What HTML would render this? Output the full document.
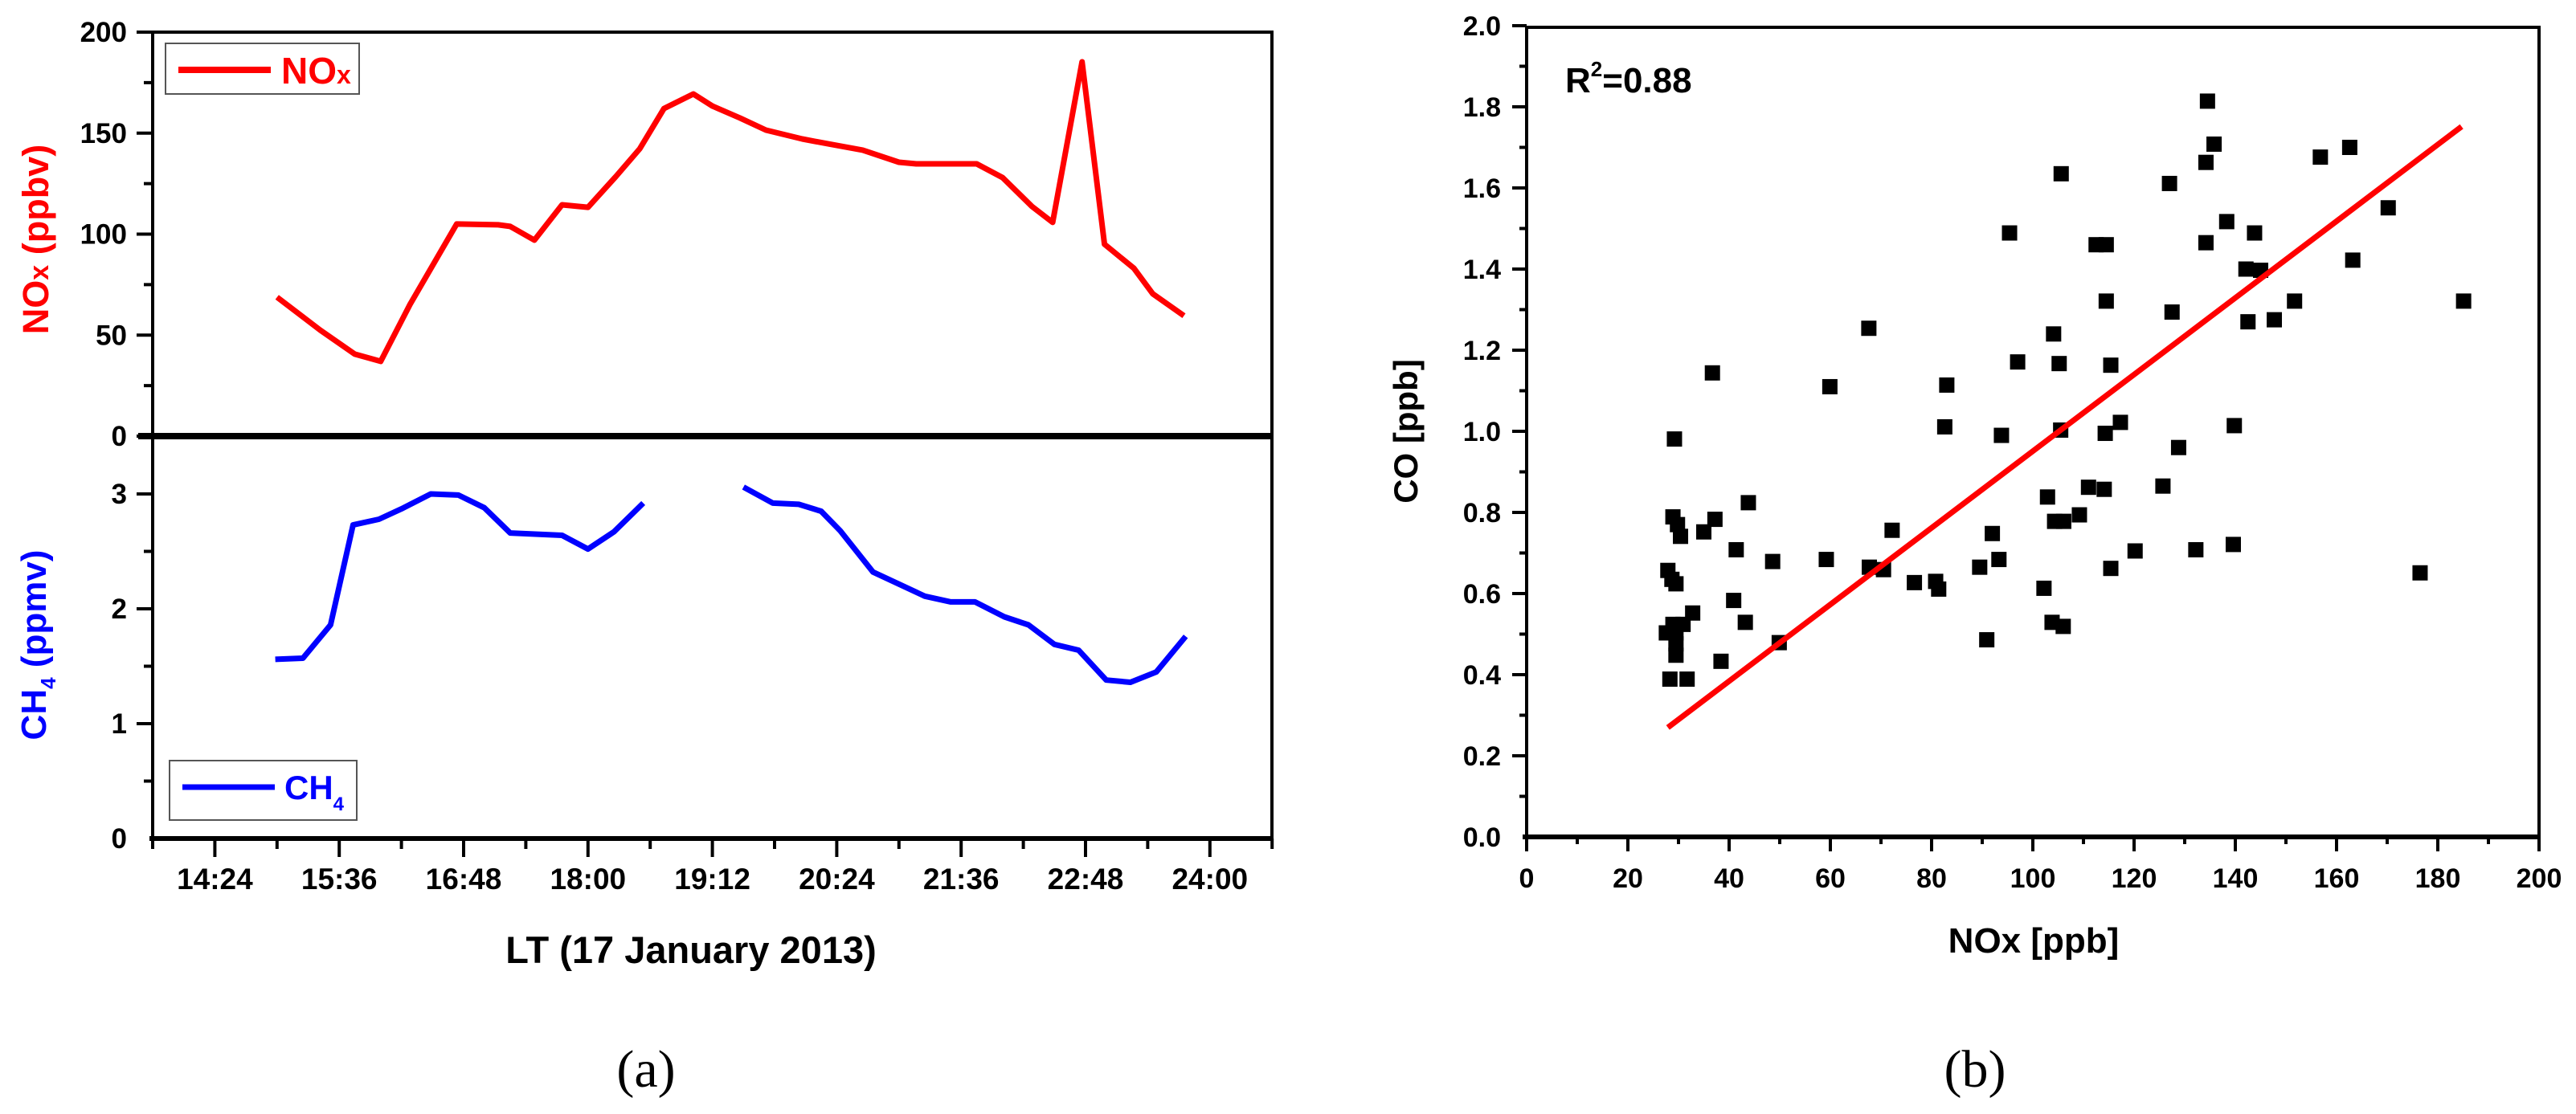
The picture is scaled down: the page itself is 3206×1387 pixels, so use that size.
<!DOCTYPE html>
<html><head><meta charset="utf-8"><title>NOx CH4 CO charts</title>
<style>
html,body{margin:0;padding:0;background:#fff;}
svg{display:block;}
text{font-family:"Liberation Sans",Arial,sans-serif;font-weight:bold;}
</style></head>
<body>
<svg id="fig" xmlns="http://www.w3.org/2000/svg" width="3206" height="1387" viewBox="0 0 3206 1387">
<rect x="0" y="0" width="3206" height="1387" fill="#fff"/>
</svg>
<script>
// ---- Panel (a) data: time in minutes since midnight ----
const noxTimes = [900,925,945,960,977,1004,1028,1035,1049,1065,1080,1096,1110,1124,1141,1152,1168,1183,1204,1219,1239,1260,1270,1305,1320,1337,1349,1366,1379,1396,1407,1425];
const noxValues = [68.8,52.5,40.6,37.0,65.2,105.0,104.6,103.8,97.0,114.5,113.3,128.4,142.3,162.2,169.4,163.4,157.5,151.5,147.1,144.7,141.6,135.6,134.8,134.8,128.0,113.7,105.8,185.3,95.0,83.1,70.4,59.6];
const ch4TimesA = [899,915,931,944,959,972,989,1005,1020,1035,1065,1080,1095,1112];
const ch4ValuesA = [1.56,1.57,1.86,2.73,2.78,2.87,3.00,2.99,2.88,2.66,2.64,2.52,2.67,2.92];
const ch4TimesB = [1170,1187,1202,1215,1226,1245,1275,1290,1304,1321,1335,1350,1364,1380,1394,1409,1426];
const ch4ValuesB = [3.06,2.92,2.91,2.85,2.68,2.32,2.11,2.06,2.06,1.93,1.86,1.69,1.64,1.38,1.36,1.45,1.76];
const timeTickLabels = ["14:24","15:36","16:48","18:00","19:12","20:24","21:36","22:48","24:00"];
const timeTickMinutes = [864,936,1008,1080,1152,1224,1296,1368,1440];
const noxTickLabels = ["0","50","100","150","200"];
const noxTickValues = [0,50,100,150,200];
const ch4TickLabels = ["0","1","2","3"];
const ch4TickValues = [0,1,2,3];
// ---- Panel (b) data ----
const scatterNox = [134.5,135.8,134.2,156.8,162.6,105.6,127.0,170.2,138.3,95.4,143.8,112.5,114.5,134.2,163.2,142.1,145.0,114.5,151.7,185.1,127.5,142.5,147.7,67.6,104.1,97.0,105.2,115.4,36.7,59.9,83.0,82.6,117.3,139.8,105.5,114.3,93.8,29.2,128.8,125.7,111.0,114.1,102.9,43.8,109.2,104.3,106.1,37.2,28.9,29.8,30.4,35.0,72.2,92.0,41.4,120.2,132.2,139.6,59.2,48.6,93.3,67.7,70.5,89.5,27.9,28.7,29.5,115.4,176.5,76.6,80.8,81.4,102.2,40.9,32.8,28.9,30.9,43.2,27.6,29.5,103.8,106.0,90.9,49.9,29.5,38.4,28.3,31.7,29.5];
const scatterCo = [1.814,1.708,1.663,1.676,1.700,1.635,1.611,1.551,1.517,1.489,1.489,1.460,1.460,1.465,1.422,1.400,1.397,1.321,1.321,1.321,1.294,1.270,1.275,1.254,1.240,1.171,1.167,1.163,1.144,1.110,1.114,1.011,1.022,1.014,1.003,0.995,0.990,0.981,0.960,0.865,0.862,0.857,0.838,0.824,0.794,0.778,0.778,0.783,0.789,0.770,0.741,0.752,0.756,0.748,0.708,0.705,0.708,0.721,0.684,0.679,0.684,0.665,0.659,0.665,0.657,0.635,0.624,0.662,0.651,0.627,0.630,0.611,0.613,0.583,0.552,0.524,0.524,0.529,0.503,0.503,0.529,0.519,0.486,0.479,0.448,0.433,0.389,0.389,0.476];
const fitRange = [27.9,184.7];
const fitSlope = 0.00945;
const fitIntercept = 0.006;
const coTickLabels = ["0.0","0.2","0.4","0.6","0.8","1.0","1.2","1.4","1.6","1.8","2.0"];
const coTickValues = [0,0.2,0.4,0.6,0.8,1.0,1.2,1.4,1.6,1.8,2.0];
const noxxTickLabels = ["0","20","40","60","80","100","120","140","160","180","200"];
const noxxTickValues = [0,20,40,60,80,100,120,140,160,180,200];

const NS = "http://www.w3.org/2000/svg";
const svg = document.getElementById("fig");
function mk(tag, attrs, parent){
  const e = document.createElementNS(NS, tag);
  for (const k in attrs) e.setAttribute(k, attrs[k]);
  (parent||svg).appendChild(e);
  return e;
}
// scales panel a
const tX = m => 190 + (m - 828) * 2.15;
const nY = v => 543 - v * 2.515;
const cY = v => 1044 - v * 143;
// scales panel b
const sx = v => 1900 + v * 6.3;
const sy = v => 1042 - v * 505;

// ===== Panel a =====
const ga = mk("g", {});



// y ticks NOx
for (let v = 0; v <= 200; v += 25) {
  const major = v % 50 === 0;
  const t = mk("line", {x1: major?170:179, x2:190, y1:nY(v), y2:nY(v), stroke:"#000","stroke-width":4}, ga);
  
  
}
noxTickValues.forEach((v,i) => {
  const t = mk("text", {x:158, y:nY(v)+12, "text-anchor":"end", "font-size":35}, ga);
  t.textContent = noxTickLabels[i];
  
  
});
// y ticks CH4
for (let v = 0.5; v <= 3.0; v += 0.5) {
  const major = Math.abs(v - Math.round(v)) < 1e-6;
  const t = mk("line", {x1: major?170:179, x2:190, y1:cY(v), y2:cY(v), stroke:"#000","stroke-width":4}, ga);
  
  
}
ch4TickValues.forEach((v,i) => {
  const t = mk("text", {x:158, y:cY(v)+12, "text-anchor":"end", "font-size":35}, ga);
  t.textContent = ch4TickLabels[i];
  
  
});
// x ticks
for (let m = 828; m <= 1476; m += 36) {
  const major = timeTickMinutes.indexOf(m) >= 0;
  const t = mk("line", {x1:tX(m), x2:tX(m), y1:1044, y2: major?1067:1057, stroke:"#000","stroke-width":4}, ga);
  
  
}
timeTickMinutes.forEach((m,i) => {
  const t = mk("text", {x:tX(m), y:1107, "text-anchor":"middle", "font-size":37}, ga);
  t.textContent = timeTickLabels[i];
  
  
});
// frame
const fr = mk("path", {d:"M190,40 H1583 V1044 H190 Z", fill:"none", stroke:"#000", "stroke-width":4}, ga);


const bl = mk("line", {x1:186, x2:1585, y1:1044, y2:1044, stroke:"#000","stroke-width":6}, ga);


const mid = mk("line", {x1:172, x2:1585, y1:543, y2:543, stroke:"#000","stroke-width":8}, ga);



// NOx line
const noxPts = noxTimes.map((m,i) => tX(m).toFixed(1)+","+nY(noxValues[i]).toFixed(1)).join(" ");
const noxLine = mk("polyline", {points:noxPts, fill:"none", stroke:"#f00", "stroke-width":7, "stroke-linejoin":"round"}, ga);


// CH4 lines
const ch4PtsA = ch4TimesA.map((m,i) => tX(m).toFixed(1)+","+cY(ch4ValuesA[i]).toFixed(1)).join(" ");
const ch4LineA = mk("polyline", {points:ch4PtsA, fill:"none", stroke:"#00f", "stroke-width":7, "stroke-linejoin":"round"}, ga);


const ch4PtsB = ch4TimesB.map((m,i) => tX(m).toFixed(1)+","+cY(ch4ValuesB[i]).toFixed(1)).join(" ");
const ch4LineB = mk("polyline", {points:ch4PtsB, fill:"none", stroke:"#00f", "stroke-width":7, "stroke-linejoin":"round"}, ga);



// legends
const lgN = mk("g", {}, ga);


mk("rect", {x:206, y:54, width:241, height:63, fill:"#fff", stroke:"#555", "stroke-width":2}, lgN);
mk("line", {x1:222, x2:337, y1:87, y2:87, stroke:"#f00", "stroke-width":8}, lgN);
const lnT = mk("text", {x:350, y:104, "font-size":46, fill:"#f00", "font-weight":"normal"}, lgN);
lnT.innerHTML = 'NO<tspan font-size="32">x</tspan>';



const lgC = mk("g", {}, ga);


mk("rect", {x:211, y:947, width:233, height:74, fill:"#fff", stroke:"#555", "stroke-width":2}, lgC);
mk("line", {x1:227, x2:342, y1:980, y2:980, stroke:"#00f", "stroke-width":7}, lgC);
const lcT = mk("text", {x:354, y:995, "font-size":42, fill:"#00f", "font-weight":"normal"}, lgC);
lcT.innerHTML = 'CH<tspan font-size="24" dy="14">4</tspan>';



// axis titles
const yN = mk("text", {x:0, y:0, "font-size":45, fill:"#f00", "text-anchor":"middle", transform:"translate(60,298) rotate(-90)"}, ga);
yN.innerHTML = 'NO<tspan font-size="34">x</tspan> (ppbv)';


const yC = mk("text", {x:0, y:0, "font-size":44, fill:"#00f", "text-anchor":"middle", transform:"translate(57,803) rotate(-90)"}, ga);
yC.innerHTML = 'CH<tspan font-size="26" dy="12">4</tspan><tspan dy="-12"> (ppmv)</tspan>';


const xT = mk("text", {x:860, y:1199, "font-size":47, "text-anchor":"middle"}, ga);
xT.textContent = "LT (17 January 2013)";


const capA = mk("text", {x:804, y:1353, "font-size":66, "text-anchor":"middle", style:"font-family:'Liberation Serif',serif;font-weight:normal"}, ga);
capA.textContent = "(a)";



// ===== Panel b =====
const gb = mk("g", {});


for (let k = 1; k <= 20; k++) {
  const v = k * 0.1;
  const major = k % 2 === 0;
  const t = mk("line", {x1: major?1882:1891, x2:1900, y1:sy(v), y2:sy(v), stroke:"#000","stroke-width":4}, gb);
  
  
}
coTickValues.forEach((v,i) => {
  const t = mk("text", {x:1868, y:sy(v)+12, "text-anchor":"end", "font-size":34}, gb);
  t.textContent = coTickLabels[i];
  
  
});
for (let k = 0; k <= 20; k++) {
  const v = k * 10;
  const major = k % 2 === 0;
  const t = mk("line", {x1:sx(v), x2:sx(v), y1:1042, y2: major?1060:1051, stroke:"#000","stroke-width":4}, gb);
  
  
}
noxxTickValues.forEach((v,i) => {
  const t = mk("text", {x:sx(v), y:1105, "text-anchor":"middle", "font-size":34}, gb);
  t.textContent = noxxTickLabels[i];
  
  
});
const frb = mk("rect", {x:1900, y:34, width:1260, height:1008, fill:"none", stroke:"#000", "stroke-width":4}, gb);


const bxb = mk("line", {x1:1895, x2:3162, y1:1042, y2:1042, stroke:"#000","stroke-width":6}, gb);



scatterNox.forEach((v,i) => {
  const r = mk("rect", {x:sx(v)-9.5, y:sy(scatterCo[i])-9.5, width:19, height:19, fill:"#000"}, gb);
  
  
});
const fit = mk("line", {x1:sx(fitRange[0]), y1:sy(fitIntercept+fitSlope*fitRange[0]), x2:sx(fitRange[1]), y2:sy(fitIntercept+fitSlope*fitRange[1]), stroke:"#f00","stroke-width":7}, gb);



const r2 = mk("text", {x:1948, y:115, "font-size":44}, gb);
r2.innerHTML = 'R<tspan font-size="26" dy="-20">2</tspan><tspan dy="20">=0.88</tspan>';


const yCo = mk("text", {x:0, y:0, "font-size":42, "text-anchor":"middle", transform:"translate(1764,537) rotate(-90)"}, gb);
yCo.textContent = "CO [ppb]";


const xNo = mk("text", {x:2531, y:1186, "font-size":44, "text-anchor":"middle"}, gb);
xNo.textContent = "NOx [ppb]";


const capB = mk("text", {x:2458, y:1353, "font-size":66, "text-anchor":"middle", style:"font-family:'Liberation Serif',serif;font-weight:normal"}, gb);
capB.textContent = "(b)";


</script>
</body></html>
